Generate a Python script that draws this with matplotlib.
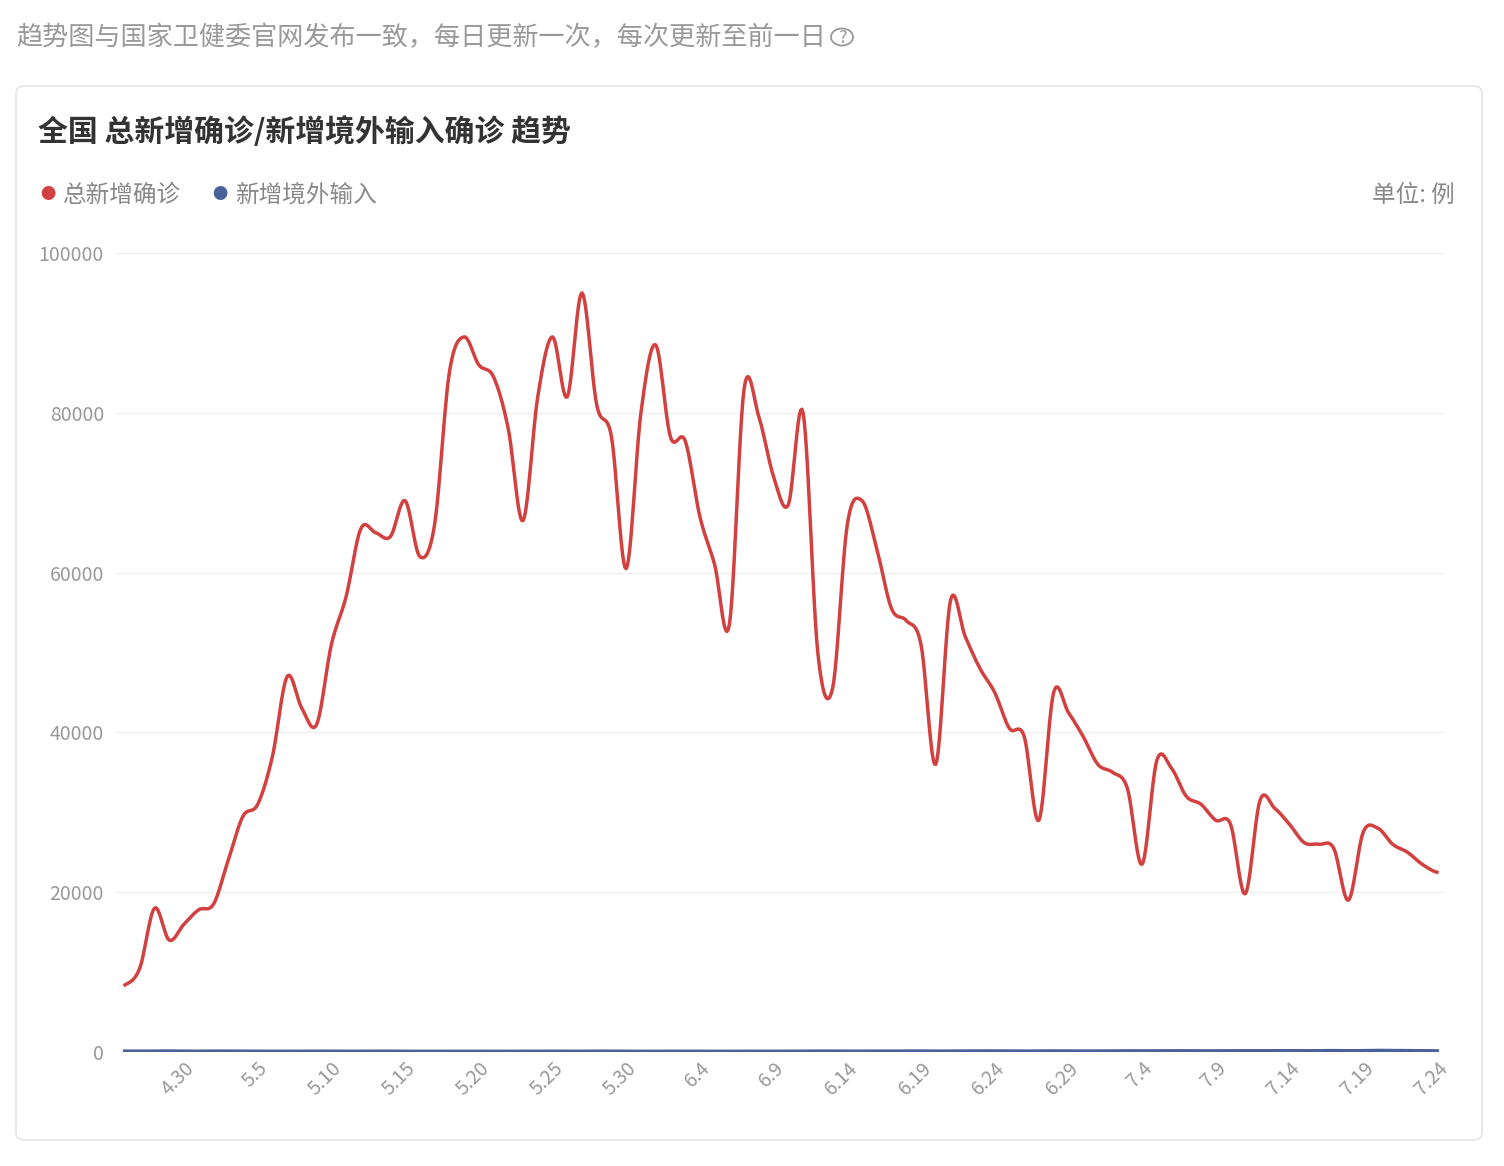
import numpy as np
import matplotlib
matplotlib.use("Agg")
import matplotlib.pyplot as plt
from matplotlib.patches import FancyBboxPatch, Circle
import datetime as dt

plt.rcParams['font.family'] = ['Noto Sans CJK SC', 'DejaVu Sans']

start = dt.date(2022, 4, 26)
total = [8400, 10500, 18000, 14000, 16000, 17800, 18500, 24000, 29500, 31000,
         37000, 47000, 43000, 41000, 51000, 57000, 65500, 65000, 64500, 69000,
         62000, 66000, 85000, 89500, 86000, 84500, 78000, 66500, 82000, 89500,
         82000, 95000, 81000, 77000, 60500, 80000, 88500, 77000, 76500, 67000,
         61000, 53500, 83000, 79500, 72000, 68500, 80000, 50000, 45500, 66000,
         69000, 63000, 55500, 54000, 51000, 36000, 56500, 52000, 48000, 45000,
         40500, 39500, 29000, 45000, 42500, 39500, 36000, 35000, 33000, 23500,
         36500, 35500, 32000, 31000, 29000, 28500, 19800, 31500, 30500, 28500,
         26200, 26000, 25500, 19000, 27500, 28000, 26000, 25000, 23500, 22500]
imported = [60, 50, 70, 80, 60, 50, 70, 60, 50, 40, 50, 40, 50, 60, 50, 40, 50, 60, 50, 40,
            40, 50, 50, 60, 50, 40, 40, 50, 60, 50, 40, 50, 60, 50, 40, 40, 50, 60, 50, 40,
            40, 50, 60, 50, 40, 50, 60, 70, 60, 50, 60, 70, 60, 80, 70, 60, 70, 80, 90, 80,
            70, 60, 80, 90, 80, 70, 80, 90, 100, 90, 100, 110, 100, 90, 100, 120, 110, 100, 120, 110,
            100, 120, 130, 110, 120, 150, 130, 120, 110, 100]
dates = [start + dt.timedelta(days=i) for i in range(len(total))]
labels = [f"{d.month}.{d.day}" for d in dates]

def smooth(y, n=12):
    y = np.asarray(y, float)
    p = np.concatenate([[y[0]], y, [y[-1]]])
    xs, ys = [], []
    for i in range(len(y) - 1):
        p0, p1, p2, p3 = p[i], p[i+1], p[i+2], p[i+3]
        t = np.linspace(0, 1, n, endpoint=False)
        ys.append(0.5*((2*p1) + (-p0+p2)*t + (2*p0-5*p1+4*p2-p3)*t**2 + (-p0+3*p1-3*p2+p3)*t**3))
        xs.append(i + t)
    xs.append([len(y)-1]); ys.append([y[-1]])
    return np.concatenate(xs), np.concatenate(ys)

fig = plt.figure(figsize=(15.04, 11.66), dpi=100)
W, H = 1504, 1166
card = FancyBboxPatch((16/W, (H-1140)/H), (1482-16)/W, (1140-86)/H,
                      boxstyle="round,pad=0,rounding_size=0.006", transform=fig.transFigure,
                      facecolor='white', edgecolor='#e4e4e4', lw=1.2, zorder=-10)
fig.patches.append(card)
fig.text(16/W, 1-38/H, "趋势图与国家卫健委官网发布一致，每日更新一次，每次更新至前一日",
         fontsize=18.8, color='#999999', va='center')
fig.patches.append(Circle((842/W, 1-37/H), 11/W, transform=fig.transFigure, fill=False,
                          edgecolor='#999999', lw=1.3))
fig.text(842/W, 1-38/H, "?", fontsize=13, color='#999999', ha='center', va='center')
fig.text(38/W, 1-132/H, "全国 总新增确诊/新增境外输入确诊 趋势", fontsize=21.5, color='#333333',
         fontweight='bold', va='center')
fig.text(40/W, 1-195/H, "●", fontsize=11, color='#d24040', va='center')
fig.text(63/W, 1-195/H, "总新增确诊", fontsize=17, color='#888888', va='center')
fig.text(212/W, 1-195/H, "●", fontsize=11, color='#4a6199', va='center')
fig.text(235/W, 1-195/H, "新增境外输入", fontsize=17, color='#888888', va='center')
fig.text(1455/W, 1-195/H, "单位: 例", fontsize=17, color='#888888', va='center', ha='right')

ax = fig.add_axes([115/W, (H-1052)/H, (1445-115)/W, (1052-253)/H])
ax.patch.set_alpha(0)
xs, ys = smooth(total)
ax.plot(xs, ys, color='#d24040', lw=2.5, zorder=3)
xs2, ys2 = smooth(imported)
ax.plot(xs2, ys2, color='#4a6199', lw=3, zorder=4)
ax.set_xlim(-0.68, 89.55)
ax.set_ylim(0, 100000)
ax.set_yticks([0, 20000, 40000, 60000, 80000, 100000])
ax.grid(axis='y', color='#eeeeee', lw=1)
ax.set_axisbelow(True)
for s in ax.spines.values():
    s.set_visible(False)
ticks = list(range(4, len(total), 5))
ax.set_xticks(ticks)
ax.set_xticklabels([labels[i] for i in ticks], rotation=45, ha='right', rotation_mode='anchor')
for lbl in ax.get_xticklabels():
    lbl.set_x(lbl.get_position()[0])
ax.tick_params(axis='both', length=0, colors='#999999', labelsize=14)
ax.tick_params(axis='y', pad=8)
ax.tick_params(axis='x', pad=4)
fig.savefig("out.png", dpi=100)
